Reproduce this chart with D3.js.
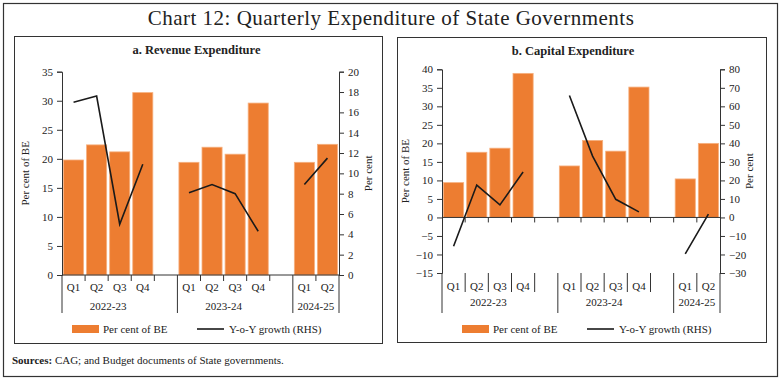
<!DOCTYPE html>
<html>
<head>
<meta charset="utf-8">
<script src="https://cdn.jsdelivr.net/npm/d3@7"></script>
<style>
  body { margin: 0; background: #fff; }
  text { font-family: "Liberation Serif", "DejaVu Serif", serif; fill: #222; }
</style>
</head>
<body>
<div id="chart"></div>
<script>
// data
var years = ["2022-23", "2023-24", "2024-25"];
var categories = ["2022-23|Q1", "2022-23|Q2", "2022-23|Q3", "2022-23|Q4", "2022-23|",
                  "2023-24|Q1", "2023-24|Q2", "2023-24|Q3", "2023-24|Q4", "2023-24|",
                  "2024-25|Q1", "2024-25|Q2"];
var revenueBE     = [19.8, 22.4, 21.2, 31.4, null, 19.4, 22.0, 20.8, 29.6, null, 19.4, 22.5];
var revenueGrowth = [17.0, 17.6, 5.0, 10.9, null, 8.1, 8.9, 8.0, 4.3, null, 8.9, 11.5];
var capitalBE     = [9.4, 17.6, 18.7, 38.9, null, 13.9, 20.8, 17.9, 35.2, null, 10.4, 20.0];
var capitalGrowth = [-15.6, 17.5, 6.8, 24.5, null, 65.9, 33.1, 9.8, 3.0, null, -19.7, 1.8];
var leftTicksA  = [0, 5, 10, 15, 20, 25, 30, 35];
var rightTicksA = [0, 2, 4, 6, 8, 10, 12, 14, 16, 18, 20];
var leftTicksB  = [-15, -10, -5, 0, 5, 10, 15, 20, 25, 30, 35, 40];
var rightTicksB = [-30, -20, -10, 0, 10, 20, 30, 40, 50, 60, 70, 80];

var W = 782, H = 383;
var orange = "#ED7D31";

var svg = d3.select("#chart").append("svg")
    .attr("width", W)
    .attr("height", H);

// outer frame + title
svg.append("rect")
    .attr("x", 3.5).attr("y", 3.5)
    .attr("width", 774).attr("height", 373)
    .attr("fill", "none").attr("stroke", "#333").attr("stroke-width", 1.2);

svg.append("text")
    .attr("x", 391).attr("y", 25)
    .attr("text-anchor", "middle")
    .style("font-size", "21px")
    .style("letter-spacing", "0.5px")
    .text("Chart 12: Quarterly Expenditure of State Governments");

var src = svg.append("text").attr("x", 12).attr("y", 364).style("font-size", "11px");
src.append("tspan").style("font-weight", "bold").text("Sources:");
src.append("tspan").text(" CAG; and Budget documents of State governments.");

var drawPanel = function(cfg) {
  var g = svg.append("g");

  g.append("rect")
      .attr("x", cfg.box[0] + 0.5).attr("y", cfg.box[1] + 0.5)
      .attr("width", cfg.box[2]).attr("height", cfg.box[3])
      .attr("fill", "none").attr("stroke", "#333").attr("stroke-width", 1);

  g.append("text")
      .attr("x", (cfg.x0 + cfg.x1) / 2 + cfg.titleDx).attr("y", cfg.box[1] + 18)
      .attr("text-anchor", "middle")
      .style("font-size", "12.5px").style("font-weight", "bold")
      .text(cfg.title);

  var x = d3.scaleBand().domain(categories).range([cfg.x0, cfg.x1]).paddingInner(0.13).paddingOuter(0.065);
  var slot = (cfg.x1 - cfg.x0) / categories.length;
  var yL = d3.scaleLinear().domain(cfg.leftDomain).range([cfg.yBottom, cfg.yTop]);
  var yR = d3.scaleLinear().domain(cfg.rightDomain).range([cfg.yBottom, cfg.yTop]);

  // bars
  g.selectAll(".bar")
    .data(cfg.bars.map(function(v, i) { return {c: categories[i], v: v}; }).filter(function(d) { return d.v != null; }))
    .enter().append("rect")
      .attr("class", "bar")
      .attr("x", function(d) { return x(d.c); })
      .attr("width", x.bandwidth())
      .attr("y", function(d) { return yL(Math.max(0, d.v)); })
      .attr("height", function(d) { return Math.abs(yL(d.v) - yL(0)); })
      .attr("fill", orange)
      .attr("stroke", "#F6B07F").attr("stroke-width", 0.8);

  // y axes
  var ax = g.append("g").attr("transform", "translate(" + cfg.x0 + ",0)")
      .call(d3.axisLeft(yL).tickValues(cfg.leftTicks).tickSize(5).tickPadding(4));
  var ax2 = g.append("g").attr("transform", "translate(" + cfg.x1 + ",0)")
      .call(d3.axisRight(yR).tickValues(cfg.rightTicks).tickSize(5).tickPadding(4));
  [ax, ax2].forEach(function(a) {
    a.select(".domain").attr("stroke", "#333");
    a.selectAll(".tick line").attr("stroke", "#333");
    a.selectAll("text").style("font-size", "11px").style("font-family", "Liberation Serif, serif").attr("fill", "#333");
  });

  g.append("text")
      .attr("transform", "translate(" + (cfg.x0 - 33) + "," + ((cfg.yTop + cfg.yBottom) / 2) + ") rotate(-90)")
      .attr("text-anchor", "middle")
      .style("font-size", "11px")
      .text("Per cent of BE");
  g.append("text")
      .attr("transform", "translate(" + (cfg.x1 + 33) + "," + ((cfg.yTop + cfg.yBottom) / 2) + ") rotate(-90)")
      .attr("text-anchor", "middle")
      .style("font-size", "11px")
      .text("Per cent");

  // zero line with slot ticks
  var y0 = yL(0);
  g.append("line")
      .attr("x1", cfg.x0).attr("x2", cfg.x1)
      .attr("y1", y0).attr("y2", y0)
      .attr("stroke", "#333");

  var bounds = d3.range(categories.length + 1).map(function(i) { return cfg.x0 + i * slot; });
  var isGroupEdge = function(i) {
    if (i == 0 || i == categories.length) return true;
    return categories[i].split("|")[0] != categories[i - 1].split("|")[0];
  };

  var yLab = yL(cfg.leftDomain[0]);
  if (cfg.zeroTicks) {
    g.selectAll(".zt").data(bounds.slice(1, -1)).enter().append("line")
        .attr("x1", function(d) { return d; }).attr("x2", function(d) { return d; })
        .attr("y1", y0).attr("y2", y0 + 5)
        .attr("stroke", "#333");
  }

  g.selectAll(".sep").data(bounds).enter().append("line")
      .attr("x1", function(d) { return d; }).attr("x2", function(d) { return d; })
      .attr("y1", yLab)
      .attr("y2", function(d, i) { return isGroupEdge(i) ? cfg.groupEnd : yLab + cfg.sepLen; })
      .attr("stroke", "#333");

  // quarter labels
  g.selectAll(".ql").data(categories.filter(function(c) { return c.split("|")[1] != ""; }))
    .enter().append("text")
      .attr("x", function(c) { return x(c) + x.bandwidth() / 2; })
      .attr("y", yLab + cfg.qDy)
      .attr("text-anchor", "middle")
      .style("font-size", "11px")
      .text(function(c) { return c.split("|")[1]; });

  // year labels, centred over their quarters
  years.forEach(function(yr) {
    var qs = categories.filter(function(c) { return c.split("|")[0] == yr && c.split("|")[1] != ""; });
    var xs = qs.map(function(c) { return categories.indexOf(c); });
    var cx = cfg.x0 + (d3.min(xs) + d3.max(xs) + 1) / 2 * slot;
    g.append("text")
        .attr("x", cx).attr("y", yLab + cfg.yrDy)
        .attr("text-anchor", "middle")
        .style("font-size", "11px")
        .text(yr);
  });

  // growth line
  var line = d3.line()
      .defined(function(d) { return d.v != null; })
      .x(function(d) { return x(d.c) + x.bandwidth() / 2; })
      .y(function(d) { return yR(d.v); });
  g.append("path")
      .datum(cfg.growth.map(function(v, i) { return {c: categories[i], v: v}; }))
      .attr("d", line)
      .attr("fill", "none")
      .attr("stroke", "#1a1a1a")
      .attr("stroke-width", 1.6);

  // legend
  var lg = g.append("g").attr("transform", "translate(" + cfg.legend[0] + "," + cfg.legend[1] + ")");
  lg.append("rect").attr("x", 0).attr("y", -4).attr("width", 27).attr("height", 8).attr("fill", orange);
  lg.append("text").attr("x", 31).attr("y", 4).style("font-size", "11px").text("Per cent of BE");
  lg.append("line").attr("x1", 125).attr("x2", 152).attr("y1", 0).attr("y2", 0)
      .attr("stroke", "#1a1a1a").attr("stroke-width", 1.6);
  lg.append("text").attr("x", 157).attr("y", 4).style("font-size", "11px").text("Y-o-Y growth (RHS)");
};

drawPanel({
  title: "a. Revenue Expenditure",
  box: [14, 36, 368, 307],
  x0: 62, x1: 339, yTop: 71.7, yBottom: 275, titleDx: -4,
  leftDomain: [0, 35], rightDomain: [0, 20],
  leftTicks: leftTicksA, rightTicks: rightTicksA,
  bars: revenueBE, growth: revenueGrowth,
  zeroTicks: false, sepLen: 6, groupEnd: 313, qDy: 16, yrDy: 35,
  legend: [72, 329]
});

drawPanel({
  title: "b. Capital Expenditure",
  box: [397, 37, 369, 305],
  x0: 442, x1: 720, yTop: 69.3, yBottom: 273, titleDx: -8,
  leftDomain: [-15, 40], rightDomain: [-30, 80],
  leftTicks: leftTicksB, rightTicks: rightTicksB,
  bars: capitalBE, growth: capitalGrowth,
  zeroTicks: true, sepLen: 19, groupEnd: 313, qDy: 17, yrDy: 33,
  legend: [462, 329]
});
</script>
</body>
</html>
